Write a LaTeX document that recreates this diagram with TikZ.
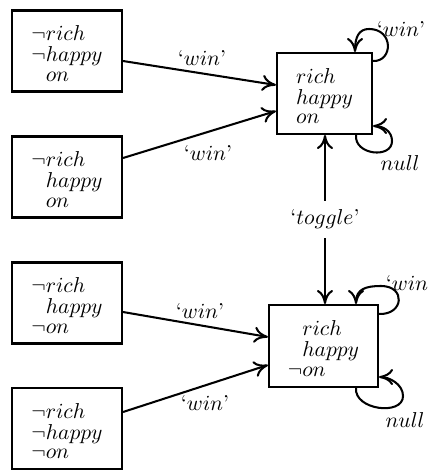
\documentclass[tikz,border=0pt]{standalone}
\usetikzlibrary{arrows.meta}
% three-line state description: lines stacked by their own height and depth
% plus a fixed gap, set 1.2pt lower than the box centre
\newcommand{\ngs}{$\neg$}
\newcommand{\ngsp}{$\phantom{\neg}$}
\newcommand{\stdesc}[1]{\raisebox{-1.2pt}[\height][\depth]{%
  \vbox{\baselineskip=0pt\lineskip=2.8pt\lineskiplimit=0pt #1}}}
\begin{document}
\begin{tikzpicture}[x=0.464pt,y=-0.464pt,
  state/.style={draw, line width=0.95pt, inner sep=0pt,
    minimum height=81*0.464pt},
  tip/.tip={Computer Modern Rightarrow[length=6.5pt,width=7.5pt,line width=0.95pt]},
  trans/.style={line width=0.95pt, -tip},
  lbl/.style={inner sep=1pt}]
\useasboundingbox (0,0) rectangle (428,470);

% source states
\node[state, minimum width=110*0.464pt] (s1) at (67,51)
  {\stdesc{\hbox{\ngs$rich$}\hbox{\ngs$happy$}\hbox{\ngsp$on$}}};
\node[state, minimum width=110*0.464pt] (s2) at (67,177)
  {\stdesc{\hbox{\ngs$rich$}\hbox{\ngsp$happy$}\hbox{\ngsp$on$}}};
\node[state, minimum width=110*0.464pt] (s3) at (67,303)
  {\stdesc{\hbox{\ngs$rich$}\hbox{\ngsp$happy$}\hbox{\ngs$on$}}};
\node[state, minimum width=110*0.464pt] (s4) at (67,428.5)
  {\stdesc{\hbox{\ngs$rich$}\hbox{\ngs$happy$}\hbox{\ngs$on$}}};

% target states
\node[state, minimum width=95*0.464pt] (ta) at (324.5,93.5)
  {\stdesc{\hbox{$rich$}\hbox{$happy$}\hbox{$on$}}};
\node[state, minimum width=109*0.464pt, minimum height=82*0.464pt] (tb) at (323.5,346)
  {\stdesc{\hbox{\ngsp$rich$}\hbox{\ngsp$happy$}\hbox{\ngs$on$}}};

% transitions into the targets
\draw[trans] ([shift={(0,10)}]s1.east) -- ([shift={(0,-8.5)}]ta.west);
\draw[trans] ([shift={(0,-19)}]s2.east) -- ([shift={(0,17.5)}]ta.west);
\draw[trans] ([shift={(0,9)}]s3.east) -- ([shift={(0,-9)}]tb.west);
\draw[trans] ([shift={(0,-16.5)}]s4.east) -- ([shift={(0,19)}]tb.west);

\node[lbl] (l1) at (202,58) {`$win$'};
\node[lbl] (l2) at (208,153) {`$win$'};
\node[lbl] (l3) at (200,311) {`$win$'};
\node[lbl] (l4) at (205,403) {`$win$'};

% toggle between the two targets
\draw[line width=0.95pt, tip-tip] ([xshift=0.23pt]ta.south) -- ([xshift=0.23pt]ta.south |- tb.north)
  node[midway, fill=white, inner sep=4pt] (lt) {`$toggle$'};

% self loops
\draw[trans] ([shift={(0,9)}]ta.north east)
  .. controls +(20,1) and +(25,0) .. ([shift={(-4,-23)}]ta.north east)
  .. controls +(-10,0) and +(0,-15) .. ([shift={(-18,0)}]ta.north east);
\draw[trans] ([shift={(-17,0)}]ta.south east)
  .. controls +(-2,20) and +(0,18) .. ([shift={(19,6)}]ta.south east)
  .. controls +(0,-10) and +(10,0) .. ([shift={(0,-9)}]ta.south east);
\draw[trans] ([shift={(0,10)}]tb.north east)
  .. controls +(25,1) and +(25,0) .. ([shift={(2,-18)}]tb.north east)
  .. controls +(-15,0) and +(0,-15) .. ([shift={(-23,0)}]tb.north east);
\draw[trans] ([shift={(-23,0)}]tb.south east)
  .. controls +(-2,22) and +(0,20) .. ([shift={(24,8)}]tb.south east)
  .. controls +(0,-12) and +(10,0) .. ([shift={(0,-11)}]tb.south east);

\node[lbl] (la1) at (401,29) {`$win$'};
\node[lbl] (la2) at (400,163) {$null$};
\node[lbl] (lb1) at (410,283) {`$win$'};
\node[lbl] (lb2) at (405,420) {$null$};
\end{tikzpicture}
\end{document}
